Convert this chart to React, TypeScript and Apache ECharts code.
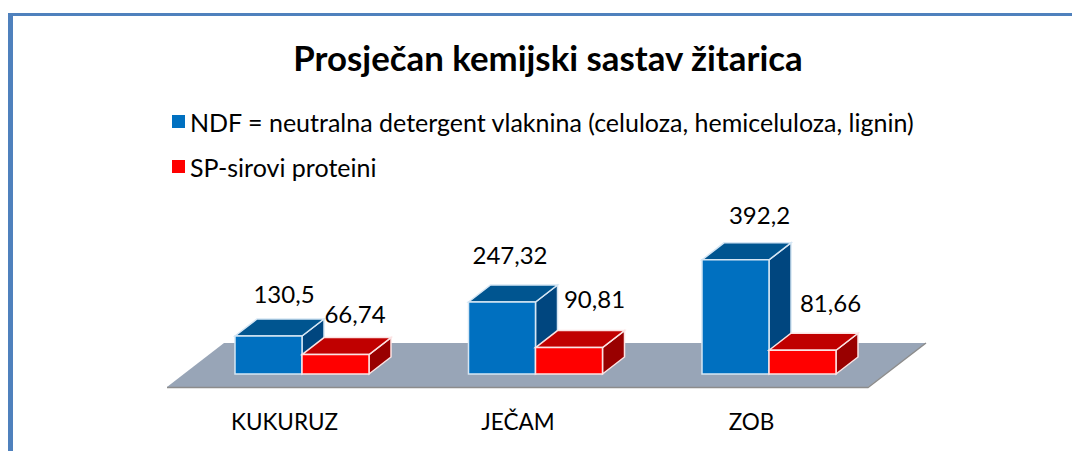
import React, { useEffect, useRef } from "react";
import * as echarts from "echarts";

const categories = ["KUKURUZ", "JEČAM", "ZOB"];
const ndfValues = [130.5, 247.32, 392.2];
const spValues = [66.74, 90.81, 81.66];
const ndfName = "NDF = neutralna detergent vlaknina (celuloza, hemiceluloza, lignin)";
const spName = "SP-sirovi proteini";
const titleText = "Prosječan kemijski sastav žitarica";

// label offsets from each bar's front-top centre (layout only)
const ndfLabelOffsets = [[15.5, -43], [8, -48], [24, -45]];
const spLabelOffsets = [[19.5, -41], [25.5, -49], [28, -48]];

const FONT = "Lato, Carlito, sans-serif";
const BAR_W = 67;
const DX = 22;
const DY = -17;

function bar3d(side: number, colors: { front: string; top: string; right: string; edge: string }, offsets: number[][]) {
  return (params: any, api: any) => {
    const idx = api.value(0);
    const val = api.value(1);
    const [cx, yTop] = api.coord([idx, val]);
    const [, yBase] = api.coord([idx, 0]);
    const x0 = side < 0 ? cx - BAR_W : cx;
    const x1 = x0 + BAR_W;
    const lineStyle = { stroke: colors.edge, lineWidth: 1.5 };
    const off = offsets[params.dataIndex];
    return {
      type: "group",
      children: [
        {
          type: "polygon",
          shape: { points: [[x1, yBase], [x1 + DX, yBase + DY], [x1 + DX, yTop + DY], [x1, yTop]] },
          style: { fill: colors.right, ...lineStyle },
        },
        {
          type: "polygon",
          shape: { points: [[x0, yTop], [x0 + DX, yTop + DY], [x1 + DX, yTop + DY], [x1, yTop]] },
          style: { fill: colors.top, ...lineStyle },
        },
        {
          type: "rect",
          shape: { x: x0, y: yTop, width: BAR_W, height: yBase - yTop },
          style: { fill: colors.front, ...lineStyle },
        },
        {
          type: "text",
          style: {
            text: String(val).replace(".", ","),
            x: (x0 + x1) / 2 + off[0],
            y: yTop + off[1],
            align: "center",
            verticalAlign: "middle",
            font: `24px ${FONT}`,
            fill: "#000",
          },
        },
      ],
    };
  };
}

export default function App() {
  const ref = useRef<HTMLDivElement>(null);
  useEffect(() => {
    const chart = echarts.init(ref.current!, null, { renderer: "svg" });
    chart.setOption({
      animation: false,
      backgroundColor: "#fff",
      title: {
        text: titleText,
        left: 543,
        top: 35,
        textAlign: "center",
        textStyle: { fontFamily: FONT, fontSize: 34.8, fontWeight: "bold", color: "#000" },
      },
      legend: {
        orient: "vertical",
        left: 167,
        top: 104,
        itemWidth: 13,
        itemHeight: 13,
        itemGap: 20,
        icon: "rect",
        selectedMode: false,
        textStyle: { fontFamily: FONT, fontSize: 25, color: "#000" },
        data: [ndfName, spName],
      },
      grid: { left: 185.25, width: 700.5, top: 257.6, height: 116.4 },
      xAxis: {
        type: "category",
        data: categories,
        axisLine: { show: false },
        axisTick: { show: false },
        axisLabel: {
          fontFamily: FONT,
          fontSize: 22.5,
          color: "#000",
          margin: 36,
          padding: [0, 35, 0, 0],
        },
      },
      yAxis: { type: "value", min: 0, max: 400, show: false },
      graphic: [
        { type: "rect", shape: { x: 8, y: 13, width: 5, height: 438 }, style: { fill: "#4F81BD" } },
        { type: "rect", shape: { x: 8, y: 13, width: 1064, height: 3 }, style: { fill: "#4F81BD" } },
        {
          type: "polygon",
          shape: { points: [[167, 387], [224, 343], [926, 343], [868, 387]] },
          style: { fill: "#98A5B7" },
        },
        {
          type: "polyline",
          shape: { points: [[167, 387.5], [868, 387.5], [926, 343]] },
          style: { stroke: "#8C8C8C", lineWidth: 1.5, fill: "none" },
        },
      ],
      series: [
        {
          name: ndfName,
          type: "custom",
          clip: false,
          itemStyle: { color: "#0070C0" },
          encode: { x: 0, y: 1 },
          data: categories.map((_, i) => [i, ndfValues[i]]),
          renderItem: bar3d(-1, { front: "#0070C0", top: "#005590", right: "#00467F", edge: "#D5E6F4" }, ndfLabelOffsets),
        },
        {
          name: spName,
          type: "custom",
          clip: false,
          itemStyle: { color: "#FF0000" },
          encode: { x: 0, y: 1 },
          data: categories.map((_, i) => [i, spValues[i]]),
          renderItem: bar3d(1, { front: "#FF0000", top: "#C00000", right: "#990000", edge: "#FBE3E3" }, spLabelOffsets),
        },
      ],
    });
    return () => chart.dispose();
  }, []);
  return <div ref={ref} style={{ position: "fixed", left: 0, top: 0, width: 1072, height: 451 }} />;
}
